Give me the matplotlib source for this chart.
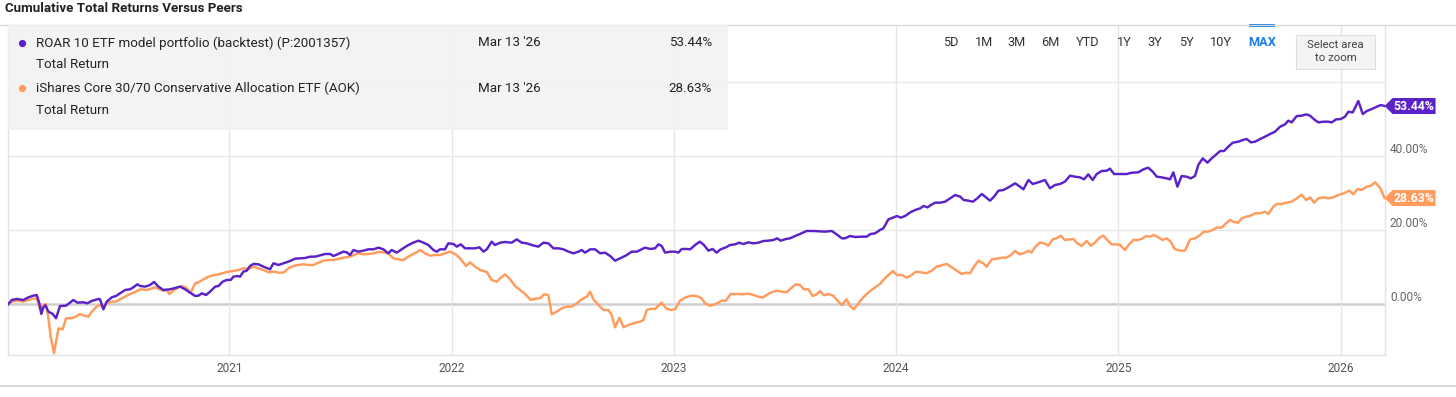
import matplotlib
matplotlib.use('Agg')
import matplotlib.pyplot as plt
import matplotlib.transforms as mtransforms
from matplotlib.patches import Rectangle, Polygon
from matplotlib.lines import Line2D

# ---------------- data (decimal year, cumulative total return %) ----------------
roar_series = [
    (2020.004, 0.0), (2020.021, 1.17), (2020.043, 1.44), (2020.073, 1.17), (2020.096, 1.89), (2020.118, 2.33),
    (2020.133, 2.51), (2020.145, 0.27), (2020.154, -2.60), (2020.163, -0.81), (2020.172, -0.27), (2020.186, -1.98),
    (2020.205, -2.60), (2020.220, -3.77), (2020.238, -0.45), (2020.265, -0.36), (2020.283, 0.45), (2020.298, 1.17),
    (2020.316, 0.45), (2020.343, 0.54), (2020.361, 0.27), (2020.381, 0.90), (2020.411, 1.44), (2020.418, 1.35),
    (2020.433, -1.35), (2020.448, 0.72), (2020.471, 1.89), (2020.490, 2.25), (2020.508, 2.96), (2020.531, 3.86),
    (2020.553, 4.04), (2020.568, 4.58), (2020.586, 5.39), (2020.598, 4.94), (2020.621, 4.76), (2020.643, 5.21),
    (2020.661, 6.02), (2020.681, 4.76), (2020.703, 3.86), (2020.733, 4.04), (2020.756, 4.40), (2020.778, 4.76),
    (2020.801, 4.04), (2020.823, 3.14), (2020.846, 2.25), (2020.861, 2.33), (2020.876, 2.96), (2020.895, 2.51),
    (2020.913, 3.41), (2020.936, 4.76), (2020.951, 4.94), (2020.970, 6.11), (2020.988, 6.56), (2021.006, 6.56),
    (2021.018, 7.45), (2021.036, 7.63), (2021.048, 7.45), (2021.063, 8.80), (2021.078, 9.07), (2021.093, 10.33),
    (2021.108, 10.87), (2021.131, 10.78), (2021.153, 10.15), (2021.183, 9.43), (2021.198, 11.05), (2021.221, 10.60),
    (2021.243, 11.05), (2021.273, 11.67), (2021.296, 12.30), (2021.318, 12.39), (2021.341, 12.48), (2021.363, 12.84),
    (2021.386, 12.84), (2021.408, 13.20), (2021.431, 13.56), (2021.453, 13.56), (2021.468, 13.02), (2021.490, 13.56),
    (2021.513, 14.19), (2021.528, 14.01), (2021.543, 13.29), (2021.558, 14.64), (2021.580, 14.19), (2021.603, 14.46),
    (2021.625, 14.82), (2021.648, 14.82), (2021.670, 15.27), (2021.693, 14.82), (2021.715, 13.74), (2021.730, 14.64),
    (2021.753, 13.92), (2021.775, 14.82), (2021.798, 15.72), (2021.820, 16.43), (2021.850, 17.15), (2021.873, 16.61),
    (2021.895, 15.98), (2021.918, 14.64), (2021.933, 14.19), (2021.948, 14.82), (2021.970, 14.82), (2021.985, 16.43),
    (2022.008, 16.25), (2022.023, 15.54), (2022.041, 16.16), (2022.060, 15.09), (2022.083, 15.09), (2022.105, 15.09),
    (2022.125, 15.36), (2022.143, 14.19), (2022.158, 14.82), (2022.180, 16.88), (2022.195, 15.98), (2022.218, 16.61),
    (2022.240, 16.79), (2022.270, 16.61), (2022.293, 17.51), (2022.315, 16.61), (2022.338, 16.43), (2022.360, 15.98),
    (2022.390, 15.54), (2022.413, 16.61), (2022.435, 16.43), (2022.458, 15.09), (2022.480, 15.09), (2022.503, 14.82),
    (2022.525, 14.19), (2022.548, 13.74), (2022.570, 14.19), (2022.585, 14.64), (2022.600, 13.92), (2022.623, 14.82),
    (2022.645, 14.82), (2022.668, 13.74), (2022.690, 13.92), (2022.713, 13.02), (2022.735, 11.76), (2022.758, 12.39),
    (2022.788, 13.29), (2022.810, 14.19), (2022.833, 14.19), (2022.855, 14.82), (2022.870, 15.27), (2022.893, 14.91),
    (2022.915, 15.09), (2022.930, 16.16), (2022.945, 15.72), (2022.960, 13.92), (2022.983, 14.19), (2023.005, 14.19),
    (2023.020, 13.92), (2023.035, 14.91), (2023.058, 14.91), (2023.073, 14.82), (2023.099, 16.16), (2023.117, 16.88),
    (2023.135, 15.98), (2023.155, 14.46), (2023.174, 14.91), (2023.192, 13.92), (2023.210, 14.82), (2023.234, 15.36),
    (2023.252, 15.98), (2023.275, 16.16), (2023.294, 16.61), (2023.312, 16.25), (2023.335, 16.70), (2023.357, 16.43),
    (2023.380, 16.61), (2023.402, 17.06), (2023.425, 17.15), (2023.447, 17.33), (2023.465, 17.78), (2023.480, 17.15),
    (2023.504, 17.60), (2023.522, 17.78), (2023.545, 18.41), (2023.567, 18.95), (2023.597, 19.76), (2023.627, 19.76),
    (2023.657, 19.67), (2023.680, 19.58), (2023.710, 19.76), (2023.732, 18.86), (2023.755, 17.78), (2023.770, 17.78),
    (2023.792, 18.41), (2023.815, 18.14), (2023.845, 18.23), (2023.867, 18.23), (2023.885, 18.95), (2023.905, 19.13),
    (2023.927, 20.03), (2023.942, 20.47), (2023.965, 22.90), (2023.985, 23.35), (2024.003, 23.80), (2024.021, 23.35),
    (2024.040, 23.80), (2024.063, 24.78), (2024.085, 25.41), (2024.108, 25.86), (2024.123, 26.49), (2024.141, 26.13),
    (2024.156, 26.76), (2024.175, 27.39), (2024.198, 27.39), (2024.220, 27.66), (2024.243, 28.56), (2024.265, 29.45),
    (2024.288, 29.01), (2024.303, 28.11), (2024.325, 27.93), (2024.345, 27.66), (2024.365, 28.56), (2024.385, 29.72),
    (2024.400, 29.01), (2024.422, 27.93), (2024.440, 29.01), (2024.460, 30.62), (2024.482, 30.80), (2024.505, 31.52),
    (2024.535, 32.60), (2024.557, 31.70), (2024.572, 30.98), (2024.595, 33.50), (2024.614, 32.42), (2024.639, 32.87),
    (2024.669, 33.50), (2024.692, 31.25), (2024.714, 32.15), (2024.737, 32.42), (2024.759, 33.05), (2024.782, 34.66),
    (2024.804, 34.39), (2024.827, 34.21), (2024.845, 33.68), (2024.864, 35.02), (2024.884, 33.50), (2024.902, 35.11),
    (2024.924, 35.92), (2024.947, 36.01), (2024.962, 36.55), (2024.980, 35.11), (2025.007, 35.11), (2025.037, 35.11),
    (2025.059, 35.47), (2025.089, 35.56), (2025.112, 36.37), (2025.134, 36.82), (2025.154, 35.74), (2025.172, 34.39),
    (2025.194, 34.21), (2025.217, 33.94), (2025.232, 33.68), (2025.247, 35.56), (2025.265, 31.70), (2025.284, 34.57),
    (2025.307, 34.39), (2025.325, 33.94), (2025.344, 34.57), (2025.359, 37.54), (2025.379, 39.33), (2025.400, 38.17),
    (2025.419, 39.33), (2025.442, 40.50), (2025.457, 41.31), (2025.475, 41.31), (2025.494, 42.48), (2025.514, 43.55),
    (2025.539, 43.82), (2025.559, 44.27), (2025.577, 44.54), (2025.596, 43.64), (2025.614, 43.82), (2025.637, 44.54),
    (2025.659, 45.17), (2025.682, 45.89), (2025.704, 46.52), (2025.727, 47.86), (2025.749, 48.49), (2025.764, 49.48),
    (2025.779, 49.03), (2025.802, 50.74), (2025.824, 50.83), (2025.844, 51.19), (2025.862, 50.83), (2025.880, 49.84),
    (2025.899, 49.03), (2025.922, 49.21), (2025.944, 49.21), (2025.959, 49.03), (2025.979, 49.84), (2026.000, 49.93),
    (2026.019, 50.56), (2026.034, 51.90), (2026.054, 51.72), (2026.079, 54.78), (2026.099, 51.28), (2026.117, 52.08),
    (2026.139, 52.62), (2026.162, 53.25), (2026.180, 53.70), (2026.197, 53.44),
]

aok_series = [
    (2020.004, 0.0), (2020.021, 0.72), (2020.043, 0.99), (2020.073, 0.72), (2020.096, 1.17), (2020.118, 1.53),
    (2020.133, 1.62), (2020.148, -1.35), (2020.163, -0.18), (2020.175, 0.09), (2020.186, -3.77), (2020.196, -8.71),
    (2020.211, -13.20), (2020.231, -6.47), (2020.250, -6.74), (2020.265, -3.77), (2020.291, -3.77), (2020.310, -3.32),
    (2020.328, -2.60), (2020.351, -3.14), (2020.366, -3.32), (2020.381, -1.98), (2020.403, -0.63), (2020.418, -0.18),
    (2020.433, -0.81), (2020.448, 0.27), (2020.471, 0.72), (2020.490, 0.72), (2020.508, 1.35), (2020.531, 2.07),
    (2020.553, 2.78), (2020.576, 3.32), (2020.598, 4.04), (2020.628, 3.86), (2020.651, 4.31), (2020.666, 4.58),
    (2020.685, 4.04), (2020.703, 3.68), (2020.718, 3.86), (2020.730, 2.78), (2020.748, 3.68), (2020.771, 4.58),
    (2020.786, 4.94), (2020.805, 4.49), (2020.826, 3.14), (2020.846, 5.66), (2020.861, 5.93), (2020.883, 6.74),
    (2020.906, 7.45), (2020.928, 7.81), (2020.958, 8.17), (2020.988, 8.71), (2021.018, 8.98), (2021.041, 9.25),
    (2021.063, 9.70), (2021.086, 9.52), (2021.108, 10.15), (2021.131, 9.70), (2021.153, 9.25), (2021.176, 8.62),
    (2021.198, 8.80), (2021.221, 8.53), (2021.243, 8.53), (2021.266, 9.70), (2021.288, 10.33), (2021.311, 10.60),
    (2021.333, 10.78), (2021.356, 10.60), (2021.378, 10.60), (2021.401, 11.23), (2021.423, 11.76), (2021.445, 11.94),
    (2021.468, 11.94), (2021.490, 12.21), (2021.513, 12.57), (2021.543, 12.84), (2021.580, 13.74), (2021.603, 13.47),
    (2021.625, 13.56), (2021.648, 13.74), (2021.670, 14.10), (2021.693, 14.01), (2021.715, 13.74), (2021.738, 12.39),
    (2021.760, 12.12), (2021.783, 11.94), (2021.805, 12.84), (2021.828, 13.56), (2021.858, 14.64), (2021.880, 13.74),
    (2021.903, 13.11), (2021.925, 13.29), (2021.948, 13.29), (2021.970, 13.74), (2021.993, 14.19), (2022.015, 13.56),
    (2022.038, 12.39), (2022.065, 10.33), (2022.083, 11.31), (2022.105, 10.15), (2022.128, 9.25), (2022.158, 8.71),
    (2022.180, 6.56), (2022.203, 6.11), (2022.218, 7.00), (2022.240, 8.08), (2022.263, 6.74), (2022.285, 4.94),
    (2022.308, 3.86), (2022.330, 2.78), (2022.356, 1.17), (2022.375, 1.53), (2022.398, 1.62), (2022.416, 2.69),
    (2022.435, 2.51), (2022.450, -2.69), (2022.473, -1.98), (2022.495, -1.08), (2022.518, -0.63), (2022.540, -0.63),
    (2022.563, 0.27), (2022.585, 1.35), (2022.608, 2.07), (2022.623, 3.41), (2022.638, 1.35), (2022.660, -0.18),
    (2022.683, -1.53), (2022.705, -1.53), (2022.720, -2.87), (2022.735, -6.20), (2022.755, -3.59), (2022.773, -6.20),
    (2022.795, -5.57), (2022.818, -5.12), (2022.848, -4.67), (2022.863, -4.22), (2022.878, -1.53), (2022.900, -1.17),
    (2022.915, -1.26), (2022.945, 0.45), (2022.965, -1.08), (2022.983, -1.53), (2023.005, -1.35), (2023.028, 0.99),
    (2023.050, 1.80), (2023.073, 2.25), (2023.088, 2.33), (2023.110, 2.07), (2023.125, 1.62), (2023.140, 0.27),
    (2023.160, -0.36), (2023.177, -0.18), (2023.200, 0.45), (2023.215, 0.99), (2023.234, 0.99), (2023.255, 2.78),
    (2023.282, 2.78), (2023.305, 2.69), (2023.335, 2.87), (2023.357, 2.51), (2023.380, 2.07), (2023.399, 1.80),
    (2023.417, 2.51), (2023.435, 3.14), (2023.462, 3.68), (2023.485, 3.41), (2023.507, 3.23), (2023.530, 4.49),
    (2023.549, 5.39), (2023.567, 5.21), (2023.585, 4.04), (2023.605, 4.04), (2023.624, 2.25), (2023.642, 2.69),
    (2023.657, 3.59), (2023.675, 2.42), (2023.694, 2.78), (2023.717, 2.33), (2023.740, 0.72), (2023.755, -0.18),
    (2023.777, 1.35), (2023.792, -0.45), (2023.810, -1.35), (2023.830, 0.27), (2023.852, 1.89), (2023.879, 3.41),
    (2023.905, 4.58), (2023.927, 5.48), (2023.945, 6.74), (2023.965, 7.90), (2023.985, 8.98), (2024.003, 7.90),
    (2024.025, 7.90), (2024.047, 7.18), (2024.070, 7.90), (2024.089, 8.80), (2024.111, 8.62), (2024.135, 8.35),
    (2024.160, 9.07), (2024.182, 10.15), (2024.205, 10.51), (2024.227, 10.87), (2024.250, 9.97), (2024.272, 9.07),
    (2024.295, 8.17), (2024.314, 8.53), (2024.332, 8.35), (2024.350, 10.15), (2024.370, 11.76), (2024.392, 11.05),
    (2024.407, 10.15), (2024.430, 12.12), (2024.452, 12.30), (2024.475, 12.57), (2024.494, 12.57), (2024.512, 13.11),
    (2024.535, 14.37), (2024.554, 13.47), (2024.572, 13.74), (2024.595, 14.46), (2024.609, 13.92), (2024.624, 15.36),
    (2024.647, 16.70), (2024.665, 16.43), (2024.684, 15.80), (2024.704, 17.51), (2024.722, 17.78), (2024.740, 18.50),
    (2024.759, 17.33), (2024.782, 17.51), (2024.797, 17.60), (2024.815, 16.43), (2024.834, 15.72), (2024.857, 17.06),
    (2024.875, 15.80), (2024.894, 16.61), (2024.914, 17.96), (2024.932, 18.50), (2024.950, 17.33), (2024.969, 16.16),
    (2024.992, 16.16), (2025.007, 15.98), (2025.029, 14.64), (2025.049, 16.25), (2025.067, 17.33), (2025.089, 17.33),
    (2025.109, 17.78), (2025.124, 18.41), (2025.142, 18.23), (2025.160, 18.68), (2025.179, 18.05), (2025.199, 17.33),
    (2025.217, 17.78), (2025.235, 16.88), (2025.254, 14.82), (2025.277, 14.46), (2025.299, 14.46), (2025.322, 17.51),
    (2025.344, 17.78), (2025.364, 18.50), (2025.384, 19.58), (2025.404, 19.58), (2025.424, 20.03), (2025.444, 20.74),
    (2025.464, 20.65), (2025.484, 21.82), (2025.502, 22.72), (2025.520, 22.18), (2025.539, 22.00), (2025.554, 23.17),
    (2025.574, 23.62), (2025.592, 23.80), (2025.614, 24.52), (2025.637, 24.52), (2025.659, 24.96), (2025.674, 24.34),
    (2025.697, 26.31), (2025.712, 27.03), (2025.734, 27.03), (2025.757, 27.39), (2025.779, 27.66), (2025.802, 28.56),
    (2025.824, 29.54), (2025.844, 28.11), (2025.862, 28.83), (2025.880, 27.39), (2025.899, 28.56), (2025.922, 28.83),
    (2025.944, 28.56), (2025.967, 28.83), (2025.989, 29.45), (2026.012, 29.90), (2026.039, 30.62), (2026.057, 29.63),
    (2026.075, 31.07), (2026.094, 30.80), (2026.117, 31.70), (2026.139, 32.06), (2026.154, 32.87), (2026.177, 31.43),
    (2026.197, 28.63),
]

series_names = ["ROAR 10 ETF model portfolio (backtest) (P:2001357)",
                "iShares Core 30/70 Conservative Allocation ETF (AOK)"]
series_sub = ["Total Return", "Total Return"]
last_dates = ["Mar 13 '26", "Mar 13 '26"]
last_values = [53.44, 28.63]
year_ticks = [2021, 2022, 2023, 2024, 2025, 2026]
y_grid = [0, 20, 40, 60]
y_labels = [0, 20, 40]
periods = ["5D", "1M", "3M", "6M", "YTD", "1Y", "3Y", "5Y", "10Y", "MAX"]

PURPLE = "#5a22c8"
ORANGE = "#ff9b5c"

# ---------------- figure ----------------
W, H = 1456, 397
plt.rcParams['font.family'] = ['Roboto', 'DejaVu Sans']
fig = plt.figure(figsize=(W / 100, H / 100), dpi=100)
fig.patch.set_facecolor('white')


def fx(px):
    return px / W


def fy(py):
    return 1 - py / H


ax = fig.add_axes([fx(8), fy(355), fx(1385) - fx(8), fy(25) - fy(355)])
ax.set_xlim(2020.004, 2026.199)
ax.set_ylim(-13.66, 75.27)
ax.set_xticks([])
ax.set_yticks([])
for k, s in ax.spines.items():
    s.set_color('#e3e3e3')
    s.set_linewidth(1.0)
ax.spines['top'].set_visible(False)

for v in y_grid:
    if v == 0:
        ax.axhline(v, color='#cfcfcf', lw=1.8, zorder=1)
    else:
        ax.axhline(v, color='#e6e6e6', lw=1.0, zorder=1)
for yr in year_ticks:
    ax.axvline(yr, color='#e6e6e6', lw=1.0, zorder=1)

# series
a_t, a_v = zip(*aok_series)
r_t, r_v = zip(*roar_series)
ax.plot(a_t, a_v, color=ORANGE, lw=1.75, zorder=3, solid_joinstyle='round')
ax.plot(r_t, r_v, color=PURPLE, lw=1.75, zorder=4, solid_joinstyle='round')

# x labels
tx = mtransforms.blended_transform_factory(ax.transData, fig.transFigure)
for yr in year_ticks:
    fig.text(yr, fy(369), str(yr), transform=tx, ha='center', va='center',
             fontsize=8.6, color='#555555')

# y labels on the right
for v in y_labels:
    ax.annotate(f"{v:.2f}%", xy=(1, v), xycoords=('axes fraction', 'data'),
                xytext=(3.6, 4.6), textcoords='offset points', ha='left', va='center',
                fontsize=8.6, color='#666666', annotation_clip=False)

# end tags
for val, col in zip(last_values, [PURPLE, ORANGE]):
    tr = fig.dpi_scale_trans + mtransforms.ScaledTranslation(2026.197, val, ax.transData)
    poly = Polygon([(0, 0), (0.08, 0.08), (0.51, 0.08), (0.51, -0.08), (0.08, -0.08)],
                   closed=True, transform=tr, facecolor=col, edgecolor='none', clip_on=False, zorder=6)
    fig.add_artist(poly)
    fig.text(0.295, -0.005, f"{val:.2f}%", transform=tr, ha='center', va='center',
             fontsize=8.8, fontweight='bold', color='white', zorder=7)

# title and separators
fig.text(fx(5), fy(9), "Cumulative Total Returns Versus Peers", ha='left', va='center',
         fontsize=9.6, fontweight='bold', color='#222222')
fig.add_artist(Line2D([0, 1], [fy(24.5), fy(24.5)], transform=fig.transFigure, color='#d8d8d8', lw=1.0))
fig.add_artist(Line2D([0, 1], [fy(385.5), fy(385.5)], transform=fig.transFigure, color='#d0d0d0', lw=1.2))

# legend panel
fig.add_artist(Rectangle((fx(8), fy(130)), fx(728) - fx(8), fy(25) - fy(130), transform=fig.transFigure,
                         facecolor='#f2f2f2', edgecolor='none', alpha=0.85, zorder=5))
rows_y = [(43, 65), (88, 110)]
for (y1, y2), name, sub, d, val, col in zip(rows_y, series_names, series_sub, last_dates, last_values,
                                            [PURPLE, ORANGE]):
    fig.add_artist(Line2D([fx(22)], [fy(y1)], transform=fig.transFigure, marker='o', markersize=4.2,
                          color=col, lw=0, zorder=6))
    fig.text(fx(36), fy(y1), name, ha='left', va='center', fontsize=9.6, color='#222222', zorder=6)
    fig.text(fx(36), fy(y2), sub, ha='left', va='center', fontsize=9.6, color='#222222', zorder=6)
    fig.text(fx(478), fy(y1), d, ha='left', va='center', fontsize=9.6, color='#222222', zorder=6)
    fig.text(fx(712), fy(y1), f"{val:.2f}%", ha='right', va='center', fontsize=9.6, color='#222222', zorder=6)

# period buttons
period_x = [951, 984, 1017, 1050, 1088, 1124, 1155, 1186, 1221, 1262]
for p, px in zip(periods, period_x):
    if p == "MAX":
        fig.text(fx(px), fy(42), p, ha='center', va='center', fontsize=9.2, fontweight='bold', color='#1a7fe0')
    else:
        fig.text(fx(px), fy(42), p, ha='center', va='center', fontsize=9.2, color='#333333')
fig.add_artist(Rectangle((fx(1249), fy(27)), fx(1275) - fx(1249), fy(24) - fy(27), transform=fig.transFigure,
                         facecolor='#1a7fe0', edgecolor='none'))
fig.add_artist(Rectangle((fx(1296), fy(69)), fx(1375) - fx(1296), fy(35) - fy(69), transform=fig.transFigure,
                         facecolor='#f4f4f4', edgecolor='#dddddd', lw=0.8, zorder=5))
fig.text(fx(1335.5), fy(45.5), "Select area", ha='center', va='center', fontsize=8.2, color='#444444', zorder=6)
fig.text(fx(1335.5), fy(58), "to zoom", ha='center', va='center', fontsize=8.2, color='#444444', zorder=6)

fig.savefig('out.png', dpi=100, facecolor='white')
